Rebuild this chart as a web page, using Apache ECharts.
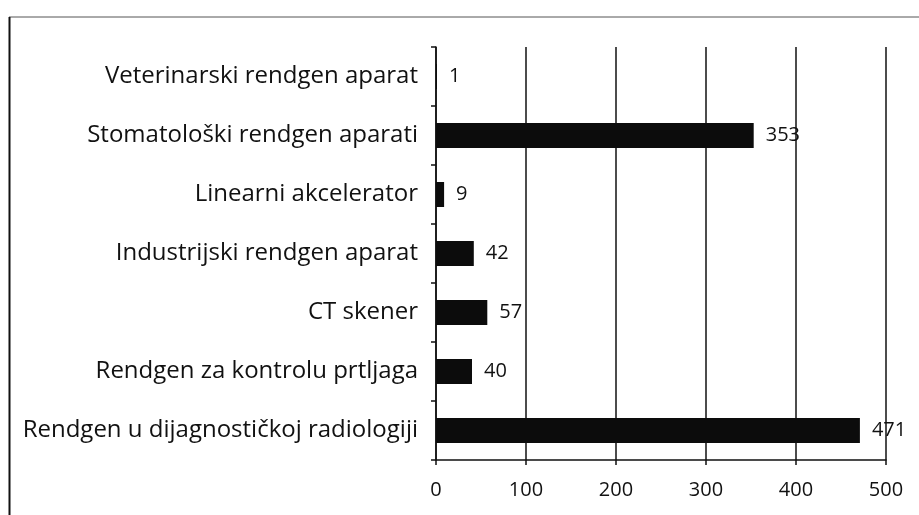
<!DOCTYPE html>
<html>
<head>
<meta charset="utf-8">
<script src="https://cdn.jsdelivr.net/npm/echarts@6/dist/echarts.min.js"></script>
<style>
  html, body { margin: 0; padding: 0; background: #fff; }
  #chart { width: 919px; height: 515px; }
</style>
</head>
<body>
<div id="chart"></div>
<script>
// kategorije odozdo prema gore
const categories = [
  'Rendgen u dijagnostičkoj radiologiji',
  'Rendgen za kontrolu prtljaga',
  'CT skener',
  'Industrijski rendgen aparat',
  'Linearni akcelerator',
  'Stomatološki rendgen aparati',
  'Veterinarski rendgen aparat'
];
const counts = [471, 40, 57, 42, 9, 353, 1];
const xTicks = [0, 100, 200, 300, 400, 500];

const font = '"Open Sans", sans-serif';
const chart = echarts.init(document.getElementById('chart'));

chart.setOption({
  animation: false,
  backgroundColor: '#fff',
  graphic: [
    { type: 'line', shape: { x1: 9, y1: 17, x2: 919, y2: 17 }, style: { stroke: '#555', lineWidth: 1 } },
    { type: 'line', shape: { x1: 9.5, y1: 17, x2: 9.5, y2: 515 }, style: { stroke: '#111', lineWidth: 2 } }
  ],
  grid: { left: 436, right: 33, top: 47, bottom: 55, containLabel: false },
  xAxis: {
    type: 'value',
    min: xTicks[0],
    max: xTicks[xTicks.length - 1],
    interval: 100,
    axisLine: { show: true, lineStyle: { color: '#111', width: 1.5 } },
    axisTick: { show: true, length: 5, inside: false, lineStyle: { color: '#111', width: 1.5 } },
    axisLabel: { color: '#111', fontSize: 20, fontFamily: font, margin: 20 },
    splitLine: { show: true, lineStyle: { color: '#111', width: 1.5 } }
  },
  yAxis: {
    type: 'category',
    data: categories,
    axisLine: { show: true, lineStyle: { color: '#111', width: 1.5 } },
    axisTick: { show: true, length: 5, lineStyle: { color: '#111', width: 1.5 } },
    axisLabel: { color: '#111', fontSize: 24, fontFamily: font, margin: 18 }
  },
  series: [{
    type: 'bar',
    data: counts,
    barWidth: 25,
    itemStyle: { color: '#0c0c0c' },
    label: {
      show: true,
      position: 'right',
      distance: 12,
      color: '#111',
      fontSize: 20,
      fontFamily: font
    }
  }]
});
</script>
</body>
</html>
